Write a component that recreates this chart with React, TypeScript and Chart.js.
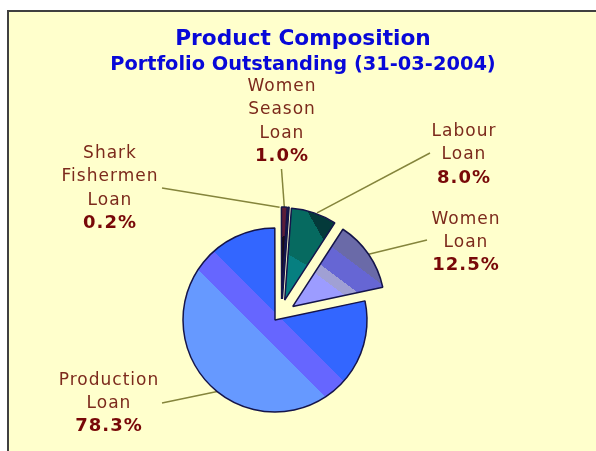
import React, { useEffect, useRef } from "react";
import { Chart, registerables } from "chart.js";

Chart.register(...registerables);

const titleText = "Product Composition";
const subtitleText = "Portfolio Outstanding (31-03-2004)";
const categories = ["Production Loan", "Women Season Loan", "Shark Fishermen Loan", "Labour Loan", "Women Loan"];
const shares = [78.3, 1.0, 0.2, 8.0, 12.5];
const labelLines = [["Production", "Loan"], ["Women", "Season", "Loan"], ["Shark", "Fishermen", "Loan"], ["Labour", "Loan"], ["Women", "Loan"]];
const percentText = ["78.3%", "1.0%", "0.2%", "8.0%", "12.5%"];

const ROTATION = 78;
const RADIUS = 92;
const CENTER = { x: 275, y: 320 };
const sliceOffsets = [0, 21, 21, 21, 24];
const sliceShiftX = [0, 6, 6, 3, -2];
const labelCenters = [{ x: 109, y: 380.5 }, { x: 282, y: 86.5 }, { x: 110, y: 153.5 }, { x: 464, y: 131.5 }, { x: 466, y: 219.5 }];
const lineSteps = [23, 23.3, 23.3, 23.3, 23];
const leaderEnds = [{ x: 162, y: 403 }, { x: 281.5, y: 169 }, { x: 162, y: 188 }, { x: 430, y: 153 }, { x: 427, y: 240 }];
const anchorShiftX = [0, 0, -9, 3, 0];

const FONT = "'DejaVu Sans', Verdana, sans-serif";

function midAngle(i: number): number {
  const before = shares.slice(0, i).reduce((a, b) => a + b, 0);
  return ((ROTATION + ((before + shares[i] / 2) / 100) * 360) * Math.PI) / 180;
}

function apexOf(chart: any, i: number) {
  const a = chart.chartArea;
  const m = midAngle(i);
  return {
    x: (a.left + a.right) / 2 + sliceOffsets[i] * Math.sin(m) + sliceShiftX[i],
    y: (a.top + a.bottom) / 2 - sliceOffsets[i] * Math.cos(m),
  };
}

function bands(ctx: CanvasRenderingContext2D, p: { x: number; y: number }, ux: number, uy: number, stops: [number, string][], last: string) {
  const span = 150;
  const g = ctx.createLinearGradient(p.x - ux * span, p.y - uy * span, p.x + ux * span, p.y + uy * span);
  let prev = 0;
  stops.forEach(([d, col]) => {
    const t = (d + span) / (2 * span);
    g.addColorStop(prev, col);
    g.addColorStop(t, col);
    prev = t;
  });
  g.addColorStop(prev, last);
  g.addColorStop(1, last);
  return g;
}

function sliceFill(context: any): any {
  const chart = context.chart;
  if (!chart.chartArea) return "#6699ff";
  const i = context.dataIndex;
  const ctx = chart.ctx as CanvasRenderingContext2D;
  const p = apexOf(chart, i);
  if (i === 0) return bands(ctx, p, Math.SQRT1_2, -Math.SQRT1_2, [[-19, "#6699ff"], [5.4, "#6666ff"]], "#3366ff");
  if (i === 1) return bands(ctx, p, 0.35, 0.94, [[-58, "#5c1c38"]], "#1c0c16");
  if (i === 2) return "#d8d8c8";
  if (i === 3) {
    const g = (ctx as any).createConicGradient(0, p.x + 67.7, p.y - 8.3);
    g.addColorStop(0, "#067f80");
    g.addColorStop(0.584, "#067f80");
    g.addColorStop(0.584, "#066a60");
    g.addColorStop(0.669, "#066a60");
    g.addColorStop(0.669, "#043a3a");
    g.addColorStop(1, "#043a3a");
    return g;
  }
  return bands(ctx, p, 0.6, -0.8, [[40, "#9c9cff"], [50, "#a0a0d4"], [71, "#6666d4"]], "#6a6aa8");
}

const placementPlugin = {
  id: "placement",
  afterLayout(chart: any) {
    const size = (RADIUS + 30) * 2;
    const a = chart.chartArea;
    a.left = CENTER.x - size / 2;
    a.right = CENTER.x + size / 2;
    a.top = CENTER.y - size / 2;
    a.bottom = CENTER.y + size / 2;
    a.width = size;
    a.height = size;
  },
  afterDatasetsUpdate(chart: any) {
    chart.getDatasetMeta(0).data.forEach((el: any, i: number) => {
      const m = midAngle(i);
      el.x += sliceOffsets[i] * Math.sin(m) + sliceShiftX[i];
      el.y -= sliceOffsets[i] * Math.cos(m);
    });
  },
};

const labelPlugin = {
  id: "sliceLabels",
  beforeDatasetsDraw(chart: any) {
    const ctx = chart.ctx as CanvasRenderingContext2D;
    ctx.save();
    ctx.strokeStyle = "#85853c";
    ctx.lineWidth = 1.5;
    chart.getDatasetMeta(0).data.forEach((el: any, i: number) => {
      const m = midAngle(i);
      ctx.beginPath();
      ctx.moveTo(leaderEnds[i].x, leaderEnds[i].y);
      ctx.lineTo(el.x + el.outerRadius * Math.sin(m) + anchorShiftX[i], el.y - el.outerRadius * Math.cos(m));
      ctx.stroke();
    });
    ctx.restore();
  },
  afterDraw(chart: any) {
    const ctx = chart.ctx as CanvasRenderingContext2D;
    ctx.save();
    ctx.textAlign = "center";
    ctx.textBaseline = "middle";
    (ctx as any).letterSpacing = "1px";
    categories.forEach((_, i) => {
      const { x, y } = labelCenters[i];
      ctx.font = `17px ${FONT}`;
      ctx.fillStyle = "#7c2a1c";
      labelLines[i].forEach((line, k) => ctx.fillText(line, x, y + k * lineSteps[i]));
      ctx.font = `bold 18px ${FONT}`;
      ctx.fillStyle = "#780808";
      ctx.fillText(percentText[i], x, y + labelLines[i].length * lineSteps[i]);
    });
    ctx.restore();
  },
};

export default function App() {
  const ref = useRef<HTMLCanvasElement>(null);
  useEffect(() => {
    const chart = new Chart(ref.current as HTMLCanvasElement, {
      type: "pie",
      data: {
        labels: categories,
        datasets: [
          {
            data: shares,
            backgroundColor: sliceFill,
            borderColor: "#14144a",
            borderWidth: 1.5,
          } as any,
        ],
      },
      options: {
        responsive: false,
        animation: false,
        rotation: ROTATION,
        radius: RADIUS,
        layout: { padding: { left: 10, right: 0, top: 0, bottom: 0 } },
        plugins: {
          legend: { display: false },
          tooltip: { enabled: false },
          title: {
            display: true,
            text: titleText,
            color: "#0808d8",
            font: { family: FONT, size: 21.7, weight: "bold" },
            padding: { top: 26, bottom: 0 },
          },
          subtitle: {
            display: true,
            text: subtitleText,
            color: "#0808d8",
            font: { family: FONT, size: 19.4, weight: "bold" },
            padding: { top: 1, bottom: 0 },
          },
        },
      } as any,
      plugins: [placementPlugin, labelPlugin],
    });
    return () => chart.destroy();
  }, []);
  return (
    <div style={{ position: "absolute", left: 0, top: 0, width: 596, height: 451, overflow: "hidden", background: "#fff" }}>
      <div style={{ position: "absolute", left: 7, top: 10, width: 700, height: 600, background: "#ffffcc", borderLeft: "2px solid #404040", borderTop: "2px solid #404040" }} />
      <canvas ref={ref} width={596} height={451} style={{ position: "absolute", left: 0, top: 0, display: "block", filter: "blur(0.35px)" }} />
    </div>
  );
}
